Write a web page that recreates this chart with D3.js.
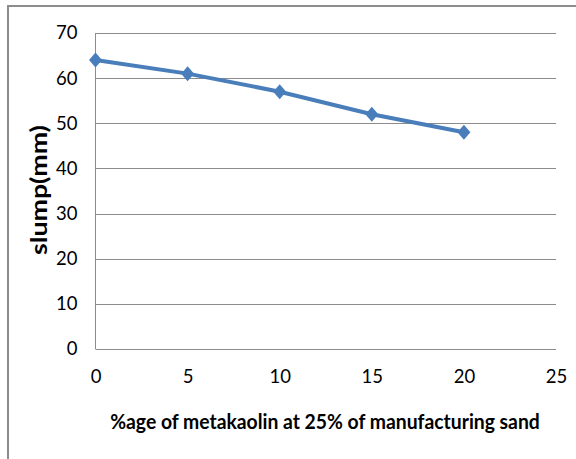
<!DOCTYPE html>
<html><head><meta charset="utf-8">
<script src="https://cdn.jsdelivr.net/npm/d3@7"></script>
<style>body{margin:0;background:#fff;} svg{display:block;}</style>
</head><body>
<script>
const xValues = [0, 5, 10, 15, 20];
const slump = [64, 61, 57, 52, 48];
const xTicks = [0, 5, 10, 15, 20, 25];
const yTicks = [0, 10, 20, 30, 40, 50, 60, 70];
const xTitle = "%age of metakaolin at 25% of manufacturing sand";
const yTitle = "slump(mm)";

const W = 576, H = 459;
const font = "Lato, 'Open Sans', sans-serif";
const svg = d3.select("body").append("svg").attr("width", W).attr("height", H);
svg.append("rect").attr("width", W).attr("height", H).attr("fill", "#fff");
// outer frame
svg.append("rect").attr("x", 8).attr("y", 6).attr("width", W).attr("height", H)
  .attr("fill", "none").attr("stroke", "#8c8c8c").attr("stroke-width", 2);

const L = 95.5, R = 556, T = 33, B = 349;
const x = d3.scaleLinear().domain([0, 25]).range([L, R]);
const y = d3.scaleLinear().domain([0, 70]).range([B, T]);

// gridlines
svg.append("g").selectAll("line").data(yTicks).join("line")
  .attr("x1", L).attr("x2", R).attr("y1", d => Math.round(y(d)) + 0.5).attr("y2", d => Math.round(y(d)) + 0.5)
  .attr("stroke", "#8c8c8c").attr("stroke-width", 1);
svg.append("line").attr("x1", L).attr("x2", L).attr("y1", T).attr("y2", B)
  .attr("stroke", "#8c8c8c").attr("stroke-width", 1);

// y axis labels
const yAxis = d3.axisLeft(y).tickValues(yTicks).tickSize(0).tickPadding(0).tickFormat(d3.format("d"));
const gy = svg.append("g").attr("transform", `translate(${L - 18},0)`).call(yAxis);
gy.select(".domain").remove();
gy.selectAll("text").attr("font-family", font).attr("font-size", 18.5).attr("fill", "#000");

const xAxis = d3.axisBottom(x).tickValues(xTicks).tickSize(0).tickPadding(0).tickFormat(d3.format("d"));
const gx = svg.append("g").attr("transform", `translate(0,${B + 21})`).call(xAxis);
gx.select(".domain").remove();
gx.selectAll("text").attr("font-family", font).attr("font-size", 18.5).attr("fill", "#000");

// titles (scaled horizontally to match the reference's text extent)
function fitted(g, str, target, size) {
  const t = g.append("text").attr("text-anchor", "middle")
    .attr("font-family", font).attr("font-weight", "bold").attr("font-size", size).text(str);
  const w = t.node().getComputedTextLength();
  t.attr("transform", `scale(${target / w},1)`);
  return t;
}
const gxt = svg.append("g").attr("transform", "translate(325,429)");
fitted(gxt, xTitle, 430, 21.5);
const gyt = svg.append("g").attr("transform", "translate(47,190) rotate(-90)");
fitted(gyt, yTitle, 130, 22);

// line
const data = xValues.map((v, i) => ({x: v, y: slump[i]}));
svg.append("path").datum(data)
  .attr("d", d3.line().x(d => x(d.x)).y(d => y(d.y)))
  .attr("fill", "none").attr("stroke", "#4a7ebb").attr("stroke-width", 4);
svg.append("g").selectAll("path").data(data).join("path")
  .attr("transform", d => `translate(${x(d.x)},${y(d.y)})`)
  .attr("d", "M0,-7.5L6.5,0L0,7.5L-6.5,0Z").attr("fill", "#4a7ebb");
</script>
</body></html>
